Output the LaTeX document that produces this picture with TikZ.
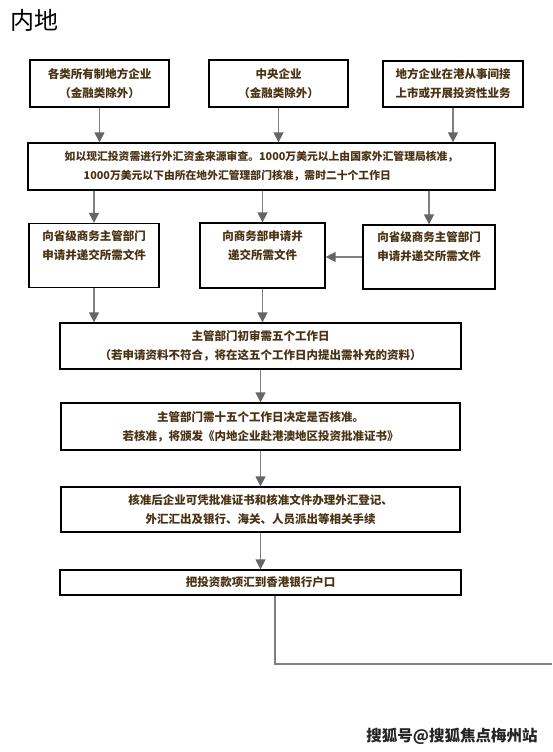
\documentclass[tikz,border=0pt]{standalone}
\usepackage{fontspec}
\newfontfamily\cjk{Noto Sans CJK SC}
\usetikzlibrary{arrows.meta}
\definecolor{inkbrown}{HTML}{4A3314}
\definecolor{linegray}{HTML}{808080}
\definecolor{tipgray}{HTML}{666666}
\begin{document}
\begin{tikzpicture}[x=1pt, y=-1pt,
        box/.style={draw=black, line width=1.3pt, fill=white, text=inkbrown, align=center,
            font=\cjk\bfseries\fontsize{11.5}{19}\selectfont, inner sep=0pt},
        arrow/.style={draw=linegray, line width=1.5pt,
            -{Triangle[width=10pt, length=10pt, fill=tipgray, color=tipgray]}},
        line/.style={draw=linegray, line width=1.5pt}
    ]
        \useasboundingbox (0,0) rectangle (552,752);
        \node[font=\cjk\fontsize{24}{24}\selectfont] (title) at (34,20) {内地};

        % first row
        \node[box, minimum width=139pt, minimum height=47pt] (local) at (99.5,83.5)
            {各类所有制地方企业\\（金融类除外）};
        \node[box, minimum width=139pt, minimum height=47pt] (central) at (278.5,83.5)
            {中央企业\\（金融类除外）};
        \node[box, minimum width=140pt, minimum height=46pt] (listed) at (453,84)
            {地方企业在港从事间接\\上市或开展投资性业务};

        % foreign exchange check
        \node[box, minimum width=467pt, minimum height=47pt, align=left,
            font=\cjk\bfseries\fontsize{10.8}{19}\selectfont] (check) at (261.5,166.5)
            {如以现汇投资需进行外汇资金来源审查。1000万美元以上由国家外汇管理局核准，\\
             \hspace*{19pt}1000万美元以下由所在地外汇管理部门核准，需时二十个工作日};

        % applications
        \node[box, minimum width=130pt, minimum height=64pt] (provA) at (94,255.5)
            {向省级商务主管部门\\申请并递交所需文件\\[2pt]\mbox{}};
        \node[box, minimum width=125pt, minimum height=65pt] (mofcom) at (262.5,255.5)
            {向商务部申请并\\递交所需文件\\[2pt]\mbox{}};
        \node[box, minimum width=132pt, minimum height=64pt] (provC) at (429,257)
            {向省级商务主管部门\\申请并递交所需文件\\[2pt]\mbox{}};

        % review and approval
        \node[box, minimum width=401pt, minimum height=46pt] (review) at (260.5,346)
            {主管部门初审需五个工作日\\（若申请资料不符合，将在这五个工作日内提出需补充的资料）};
        \node[box, minimum width=399pt, minimum height=47pt] (approve) at (260.5,426.5)
            {主管部门需十五个工作日决定是否核准。\\若核准，将颁发《内地企业赴港澳地区投资批准证书》};
        \node[box, minimum width=399pt, minimum height=45pt] (register) at (260.5,509.5)
            {核准后企业可凭批准证书和核准文件办理外汇登记、\\外汇汇出及银行、海关、人员派出等相关手续};
        \node[box, minimum width=401pt, minimum height=25pt] (remit) at (260.5,582.5)
            {把投资款项汇到香港银行户口};

        \node[font=\cjk\bfseries\fontsize{15.5}{15.5}\selectfont, text=black!85] (mark) at (452,736)
            {搜狐号@搜狐焦点梅州站};

        \draw[arrow] (local) -- (local |- check.north);
        \draw[arrow] (central) -- (central |- check.north);
        \draw[arrow] (listed) -- (listed |- check.north);
        \draw[arrow] (provA |- check.south) -- (provA);
        \draw[arrow] (mofcom |- check.south) -- (mofcom);
        \draw[arrow] (provC |- check.south) -- (provC);
        \draw[arrow] (provC.west) -- (provC.west -| mofcom.east);
        \draw[arrow] (provA) -- (provA |- review.north);
        \draw[arrow] (mofcom) -- (mofcom |- review.north);
        \draw[arrow] (review) -- (approve);
        \draw[arrow] (approve) -- (register);
        \draw[arrow] (register) -- (remit);

        \coordinate (turn) at (275,664);
        \coordinate (edge) at (552,664);
        \draw[line] (turn |- remit.south) -- (turn) -- (edge);
    \end{tikzpicture}
\end{document}
